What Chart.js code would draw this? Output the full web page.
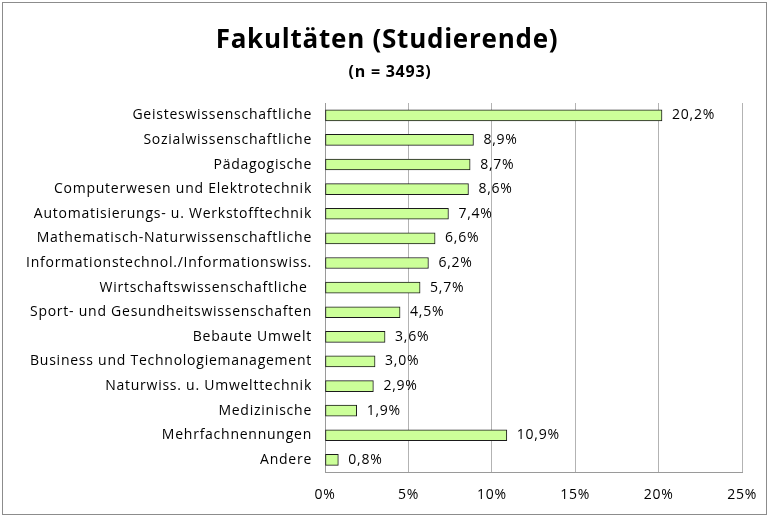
<!DOCTYPE html>
<html>
<head>
<meta charset="utf-8">
<script src="https://cdn.jsdelivr.net/npm/chart.js@4"></script>
<style>
    html, body { margin: 0; padding: 0; background: #fff; }
    #wrap { position: relative; width: 771px; height: 517px; }
    #frame { position: absolute; left: 2px; top: 2px; width: 763px; height: 511px; border: 1px solid #8c8c8c; }
    canvas { position: absolute; left: 0; top: 0; }
</style>
</head>
<body>
<div id="wrap">
    <div id="frame"></div>
    <canvas id="chartFakultaeten" width="771" height="517"></canvas>
</div>
<script>
// categories (top to bottom)
var fakultaeten = [
    'Geisteswissenschaftliche',
    'Sozialwissenschaftliche',
    'Pädagogische',
    'Computerwesen und Elektrotechnik',
    'Automatisierungs- u. Werkstofftechnik',
    'Mathematisch-Naturwissenschaftliche',
    'Informationstechnol./Informationswiss.',
    'Wirtschaftswissenschaftliche ',
    'Sport- und Gesundheitswissenschaften',
    'Bebaute Umwelt',
    'Business und Technologiemanagement',
    'Naturwiss. u. Umwelttechnik',
    'Medizinische',
    'Mehrfachnennungen',
    'Andere'
];
// share of students in percent
var anteile = [20.2, 8.9, 8.7, 8.6, 7.4, 6.6, 6.2, 5.7, 4.5, 3.6, 3.0, 2.9, 1.9, 10.9, 0.8];
// x axis ticks
var xTicks = [0, 5, 10, 15, 20, 25];

var titleText = 'Fakultäten (Studierende)';
var subtitleText = '(n = 3493)';

var fontFamily = '"Open Sans", Lato, sans-serif';

function formatPct(v, digits) {
    return v.toFixed(digits).replace('.', ',') + '%';
}

// the original text is a bit wider spaced
var spacing = {
    id: 'spacing',
    beforeUpdate: function(chart) { chart.ctx.letterSpacing = '0.75px'; },
    beforeDraw: function(chart) { chart.ctx.letterSpacing = '0.75px'; }
};

// title block, centred over the whole frame (not over the padded layout)
var header = {
    id: 'header',
    afterDraw: function(chart) {
        var ctx = chart.ctx;
        ctx.save();
        ctx.fillStyle = '#000';
        ctx.textAlign = 'center';
        ctx.textBaseline = 'middle';
        ctx.font = 'bold 26px ' + fontFamily;
        ctx.fillText(titleText, 387, 41);
        ctx.font = 'bold 16px ' + fontFamily;
        ctx.fillText(subtitleText, 390, 72);
        ctx.restore();
    }
};

// value labels at the end of each bar
var valueLabels = {
    id: 'valueLabels',
    afterDatasetsDraw: function(chart) {
        var ctx = chart.ctx;
        var meta = chart.getDatasetMeta(0);
        ctx.save();
        ctx.font = '14px ' + fontFamily;
        ctx.fillStyle = '#000';
        ctx.textAlign = 'left';
        ctx.textBaseline = 'middle';
        meta.data.forEach(function(bar, i) {
            ctx.fillText(formatPct(anteile[i], 1), bar.x + 10, bar.y);
        });
        ctx.restore();
    }
};

var ctx = document.getElementById('chartFakultaeten');
var myChart = new Chart(ctx, {
    type: 'bar',
    data: {
        labels: fakultaeten,
        datasets: [{
            data: anteile,
            backgroundColor: '#ccff99',
            borderColor: '#1a1a1a',
            borderWidth: 1,
            borderSkipped: false,
            barThickness: 11
        }]
    },
    plugins: [spacing, header, valueLabels],
    options: {
        indexAxis: 'y',
        responsive: false,
        animation: false,
        layout: {
            padding: { left: 0, right: 28, top: 103, bottom: 0 }
        },
        plugins: {
            legend: { display: false },
            tooltip: { enabled: false },
            title: { display: false }
        },
        scales: {
            x: {
                min: 0,
                max: 25,
                afterBuildTicks: function(scale) {
                    scale.ticks = xTicks.map(function(v) { return { value: v }; });
                },
                ticks: {
                    color: '#000',
                    padding: 14,
                    font: { family: fontFamily, size: 14 },
                    callback: function(v) { return v + '%'; }
                },
                grid: {
                    color: '#b3b3b3',
                    drawTicks: false
                },
                border: { color: '#9a9a9a' }
            },
            y: {
                afterFit: function(scale) { scale.width = 325; },
                ticks: {
                    color: '#000',
                    padding: 13,
                    autoSkip: false,
                    font: { family: fontFamily, size: 14 }
                },
                grid: {
                    display: false,
                    drawTicks: false
                },
                border: { color: '#9a9a9a' }
            }
        }
    }
});
</script>
</body>
</html>
